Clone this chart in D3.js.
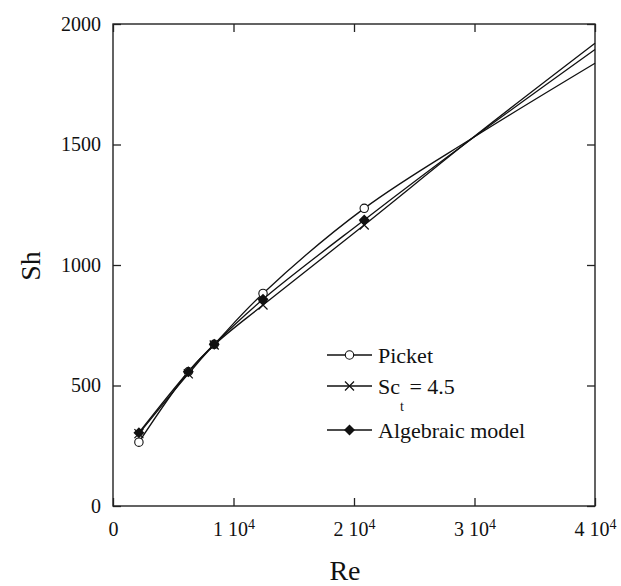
<!DOCTYPE html>
<html>
<head>
<meta charset="utf-8">
<script src="https://cdn.jsdelivr.net/npm/d3@7"></script>
<style>
  body { margin: 0; background: #fff; }
  text { font-family: "Liberation Serif", "DejaVu Serif", serif; fill: #111; }
</style>
</head>
<body>
<div id="chart"></div>
<script>
// Reynolds numbers along the curves (points past 2.1e4 are read off the lines, no marker there)
var reValues = [2150, 6250, 8400, 12450, 20850, 30000, 40000];
var hasMarker = [true, true, true, true, true, false, false];

// Sherwood number for each series
var picket    = [265, 557, 671, 882, 1235, 1532, 1837];
var sct45     = [300, 548, 668, 834, 1166, 1534, 1920];
var algebraic = [304, 557, 671, 858, 1187, 1532, 1894];

var seriesNames = ['Picket', 'Sct', 'Algebraic model'];
var xTicks = [0, 10000, 20000, 30000, 40000];
var yTicks = [0, 500, 1000, 1500, 2000];

var width = 621, height = 586;
// plot box (note: "top" is reserved on window, so use m* names)
var mLeft = 113, mRight = 595, mTop = 24, mBottom = 506;

var svg = d3.select('#chart')
            .append('svg')
            .attr('width', width)
            .attr('height', height);

var x = d3.scaleLinear().domain([0, 40000]).range([mLeft, mRight]);
var y = d3.scaleLinear().domain([0, 2000]).range([mBottom, mTop]);

// frame
svg.append('rect')
   .attr('x', mLeft).attr('y', mTop)
   .attr('width', mRight - mLeft).attr('height', mBottom - mTop)
   .attr('fill', 'none')
   .attr('stroke', '#222')
   .attr('stroke-width', 1.4);

// axes, ticks pointing inward
var xAxis = d3.axisBottom(x).tickValues(xTicks).tickSizeInner(-8).tickSizeOuter(0).tickPadding(16)
              .tickFormat(function(d) { return d === 0 ? '0' : (d / 10000) + ' 10'; });
var yAxis = d3.axisLeft(y).tickValues(yTicks).tickSizeInner(-8).tickSizeOuter(0).tickPadding(12)
              .tickFormat(d3.format('d'));

var gx = svg.append('g').attr('transform', 'translate(0,' + mBottom + ')').call(xAxis);
var gy = svg.append('g').attr('transform', 'translate(' + mLeft + ',0)').call(yAxis);

// top and right mirror ticks
svg.append('g').attr('transform', 'translate(0,' + mTop + ')')
   .call(d3.axisTop(x).tickValues(xTicks).tickSizeInner(-8).tickSizeOuter(0).tickFormat(''));
svg.append('g').attr('transform', 'translate(' + mRight + ',0)')
   .call(d3.axisRight(y).tickValues(yTicks).tickSizeInner(-8).tickSizeOuter(0).tickFormat(''));

svg.selectAll('.domain').remove();
svg.selectAll('.tick line').attr('stroke', '#222').attr('stroke-width', 1.3);

gy.selectAll('text')
  .style('font-family', '"Liberation Serif", serif')
  .style('font-size', '20px')
  .attr('fill', '#111');

gx.selectAll('text')
  .style('font-family', '"Liberation Serif", serif')
  .style('font-size', '20px')
  .attr('fill', '#111')
  .each(function(d) {
    if (d === 0) return;
    d3.select(this).append('tspan')
      .attr('dy', '-0.55em')
      .style('font-size', '14px')
      .text('4');
  });

// axis titles
svg.append('text')
   .attr('x', 345).attr('y', 580)
   .attr('text-anchor', 'middle')
   .style('font-size', '28px')
   .text('Re');

svg.append('text')
   .attr('transform', 'translate(40,266) rotate(-90)')
   .attr('text-anchor', 'middle')
   .style('font-size', '28px')
   .text('Sh');

// curves
var line = d3.line()
             .curve(d3.curveCatmullRom.alpha(0.5))
             .x(function(d, i) { return x(reValues[i]); })
             .y(function(d) { return y(d); });

var allSeries = [picket, sct45, algebraic];
allSeries.forEach(function(s) {
  svg.append('path')
     .attr('d', line(s))
     .attr('fill', 'none')
     .attr('stroke', '#111')
     .attr('stroke-width', 1.3);
});

// marker painters
function circleMark(g, cx, cy) {
  g.append('circle').attr('cx', cx).attr('cy', cy).attr('r', 4.2)
   .attr('fill', '#fff').attr('stroke', '#111').attr('stroke-width', 1.1);
}
function crossMark(g, cx, cy) {
  var s = 4.5;
  g.append('path')
   .attr('d', 'M' + (cx - s) + ',' + (cy - s) + 'L' + (cx + s) + ',' + (cy + s) +
              'M' + (cx - s) + ',' + (cy + s) + 'L' + (cx + s) + ',' + (cy - s))
   .attr('stroke', '#111').attr('stroke-width', 1.2).attr('fill', 'none');
}
function diamondMark(g, cx, cy) {
  var s = 5.5;
  g.append('path')
   .attr('d', 'M' + cx + ',' + (cy - s) + 'L' + (cx + s) + ',' + cy +
              'L' + cx + ',' + (cy + s) + 'L' + (cx - s) + ',' + cy + 'Z')
   .attr('fill', '#111');
}
var painters = [circleMark, crossMark, diamondMark];

var marks = svg.append('g');
allSeries.forEach(function(s, k) {
  s.forEach(function(v, i) {
    if (hasMarker[i]) painters[k](marks, x(reValues[i]), y(v));
  });
});

// legend
var legendRows = [355, 386, 430];
var legend = svg.append('g');
seriesNames.forEach(function(name, k) {
  var ly = legendRows[k];
  legend.append('line')
        .attr('x1', 327).attr('x2', 372)
        .attr('y1', ly).attr('y2', ly)
        .attr('stroke', '#111').attr('stroke-width', 1.3);
  painters[k](legend, 349.5, ly);
  var t = legend.append('text')
                .attr('x', 378).attr('y', ly + 8)
                .style('font-size', '22px');
  if (name === 'Sct') {
    t.append('tspan').text('Sc');
    t.append('tspan').attr('dy', 17).style('font-size', '14px').text('t');
    t.append('tspan').attr('dy', -17).text(' = 4.5');
  } else {
    t.text(name);
  }
});
</script>
</body>
</html>
